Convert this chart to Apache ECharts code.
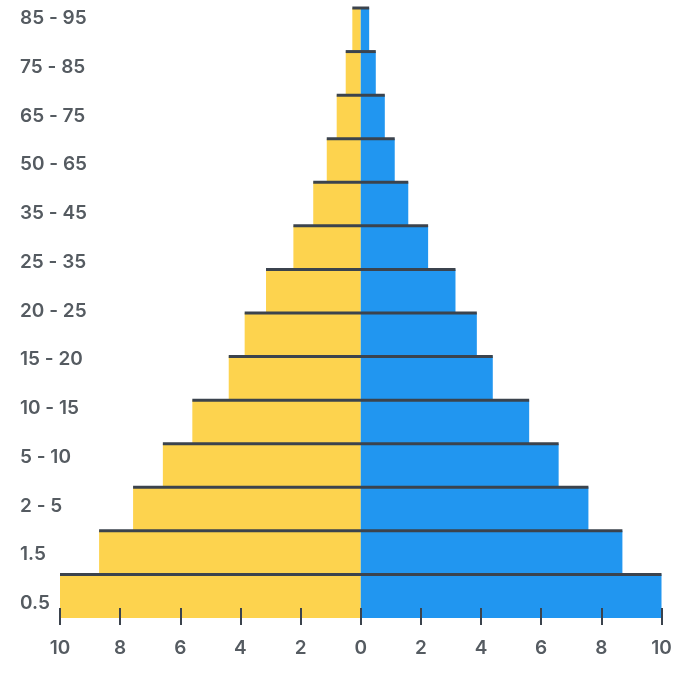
<!DOCTYPE html>
<html>
<head>
<meta charset="utf-8">
<script src="https://cdn.jsdelivr.net/npm/echarts@6/dist/echarts.min.js"></script>
<style>
  html, body { margin: 0; padding: 0; background: #fff; }
  #main { width: 686px; height: 696px; }
</style>
</head>
<body>
<div id="main"></div>
<script>
// bars, from the bottom band up (14 bands)
var bands = ['1', '2', '3', '4', '5', '6', '7', '8', '9', '10', '11', '12', '13', '14'];
var leftValues = [10, 8.7, 7.57, 6.58, 5.6, 4.39, 3.86, 3.15, 2.24, 1.58, 1.13, 0.8, 0.5, 0.28];
var rightValues = [10, 8.7, 7.57, 6.58, 5.6, 4.39, 3.86, 3.15, 2.24, 1.58, 1.13, 0.8, 0.5, 0.28];
// age labels on the left, bottom to top
var ageLabels = ['0.5', '1.5', '2 - 5', '5 - 10', '10 - 15', '15 - 20', '20 - 25',
  '25 - 35', '35 - 45', '50 - 65', '65 - 75', '75 - 85', '85 - 95'];

var chart = echarts.init(document.getElementById('main'));

var textColor = '#555b61';
var darkLine = '#3b434d';

var option = {
  animation: false,
  grid: [
    { left: 60, right: 24.5, top: 8, bottom: 78 },
    { left: 20, width: 10, top: 18.5, bottom: 92.5 }
  ],
  xAxis: [{
    type: 'value',
    gridIndex: 0,
    min: -10,
    max: 10,
    interval: 2,
    offset: 7,
    z: 5,
    axisLine: { show: false },
    axisTick: { show: true, inside: true, length: 17, lineStyle: { color: darkLine, width: 2 } },
    splitLine: { show: false },
    axisLabel: {
      margin: 14,
      color: textColor,
      fontFamily: 'Inter',
      fontWeight: 600,
      fontSize: 19,
      formatter: function (v) { return Math.abs(v); }
    }
  }, {
    type: 'value',
    gridIndex: 1,
    show: false
  }],
  yAxis: [{
    type: 'category',
    gridIndex: 0,
    data: bands,
    show: false
  }, {
    type: 'category',
    gridIndex: 1,
    data: ageLabels,
    boundaryGap: false,
    axisLine: { show: false },
    axisTick: { show: false },
    axisLabel: {
      inside: true,
      margin: 0,
      align: 'left',
      color: textColor,
      fontFamily: 'Inter',
      fontWeight: 600,
      fontSize: 19
    }
  }],
  series: [{
    type: 'bar',
    stack: 'pop',
    xAxisIndex: 0,
    yAxisIndex: 0,
    barCategoryGap: '0%',
    itemStyle: { color: '#fdd34e' },
    data: leftValues.map(function (v) { return -v; })
  }, {
    type: 'bar',
    stack: 'pop',
    xAxisIndex: 0,
    yAxisIndex: 0,
    barCategoryGap: '0%',
    itemStyle: { color: '#2196f0' },
    data: rightValues
  }, {
    // dark edge on top of each bar
    type: 'custom',
    xAxisIndex: 0,
    yAxisIndex: 0,
    z: 4,
    data: bands.map(function (b, i) { return [leftValues[i], i, rightValues[i]]; }),
    encode: { x: 0, y: 1 },
    renderItem: function (params, api) {
      var i = api.value(1);
      var l = api.coord([-api.value(0), i]);
      var r = api.coord([api.value(2), i]);
      var h = api.size([0, 1])[1];
      var top = l[1] - h / 2;
      return {
        type: 'rect',
        shape: { x: l[0], y: top - 1.5, width: r[0] - l[0], height: 3 },
        style: { fill: darkLine }
      };
    }
  }]
};

chart.setOption(option);
</script>
</body>
</html>
